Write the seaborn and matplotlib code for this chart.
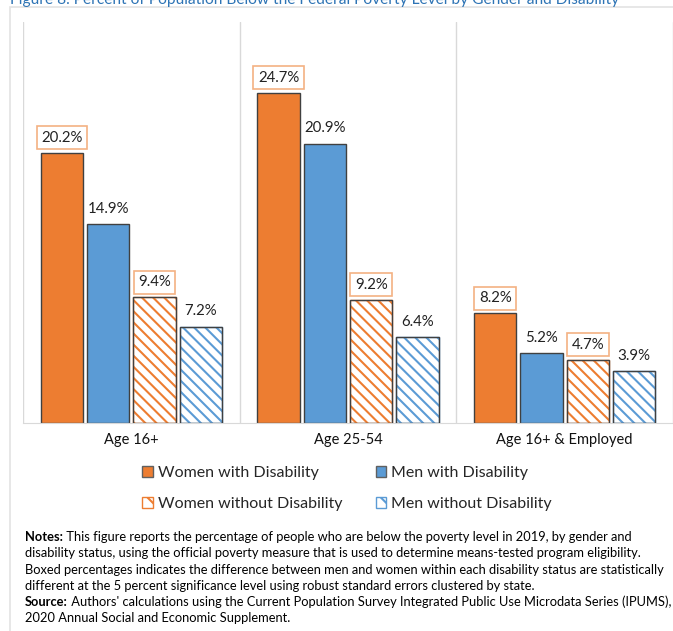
import pandas as pd
import seaborn as sns
import matplotlib.pyplot as plt
from matplotlib.patches import Patch, Rectangle

groups = ['Age 16+', 'Age 25-54', 'Age 16+ & Employed']
series = ['Women with Disability', 'Men with Disability',
          'Women without Disability', 'Men without Disability']
women_dis = [20.2, 24.7, 8.2]
men_dis = [14.9, 20.9, 5.2]
women_nodis = [9.4, 9.2, 4.7]
men_nodis = [7.2, 6.4, 3.9]
hatched = ['Women without Disability', 'Men without Disability']
boxed = ['Women with Disability', 'Women without Disability']

title = 'Figure 8. Percent of Population Below the Federal Poverty Level by Gender and Disability'
notes = [
    ('Notes:', ' This figure reports the percentage of people who are below the poverty level in 2019, by gender and'),
    ('', 'disability status, using the official poverty measure that is used to determine means-tested program eligibility.'),
    ('', 'Boxed percentages indicates the difference between men and women within each disability status are statistically'),
    ('', 'different at the 5 percent significance level using robust standard errors clustered by state.'),
    ('Source:', " Authors' calculations using the Current Population Survey Integrated Public Use Microdata Series (IPUMS),"),
    ('', '2020 Annual Social and Economic Supplement.'),
]

orange = '#ED7D31'
blue = '#5B9BD5'
edge = '#404040'
grid = '#D9D9D9'

df = pd.DataFrame({
    'group': groups * 4,
    'series': sum([[s] * 3 for s in series], []),
    'value': women_dis + men_dis + women_nodis + men_nodis,
})

sns.set_style('white')
plt.rcParams['font.family'] = ['Lato', 'DejaVu Sans']
plt.rcParams['hatch.linewidth'] = 1.5

W, H = 673, 631
fig = plt.figure(figsize=(W / 100, H / 100), dpi=100)
ax = fig.add_axes([23 / W, 1 - 423 / H, 650 / W, 401 / H])

sns.barplot(data=df, x='group', y='value', hue='series', order=groups,
            hue_order=series, palette=[orange, blue, orange, blue],
            width=0.855, gap=0.09, edgecolor=edge, linewidth=1,
            saturation=1, legend=False, ax=ax)

for cont, name in zip(ax.containers, series):
    for bar in cont:
        if name in hatched:
            col = bar.get_facecolor()
            bar.set_facecolor('white')
            bar.set_edgecolor(col)
            bar.set_hatch('\\\\\\')
            ax.add_patch(Rectangle(bar.get_xy(), bar.get_width(), bar.get_height(),
                                   fill=False, edgecolor=edge, lw=1, zorder=3))
        val = bar.get_height()
        box = None
        if name in boxed:
            box = dict(boxstyle='square,pad=0.3', fc='white', ec='#F4B183', lw=1.2)
        ax.annotate(f'{val:.1f}%', (bar.get_x() + bar.get_width() / 2, val),
                    xytext=(0, 11), textcoords='offset points', ha='center',
                    va='center', fontsize=10.8, color='#222222', bbox=box)

ax.set_xlim(-0.5, 2.5)
ax.set_ylim(0, 30)
for x in [-0.5, 0.5, 1.5, 2.5]:
    ax.axvline(x, color=grid, lw=1, zorder=0)
sns.despine(ax=ax, left=True, right=True, top=True)
ax.spines['bottom'].set_color(grid)
ax.set_yticks([])
ax.set_xlabel('')
ax.set_ylabel('')
ax.tick_params(axis='x', length=0, pad=7, labelsize=10.5, labelcolor='#111111')

# legend
handles = [
    Patch(facecolor=orange, edgecolor='#606060', label=series[0]),
    Patch(facecolor='white', edgecolor=orange, hatch='\\\\', label=series[2]),
    Patch(facecolor=blue, edgecolor='#606060', label=series[1]),
    Patch(facecolor='white', edgecolor=blue, hatch='\\\\', label=series[3]),
]
fig.legend(handles=handles, ncol=2, loc='upper left',
           bbox_to_anchor=(128 / W, 1 - 452 / H), frameon=False,
           fontsize=11.5, handlelength=0.65, handleheight=0.65,
           handletextpad=0.3, labelspacing=1.06, columnspacing=2.1)

# outer frame and clipped title
fig.add_artist(Rectangle((10 / W, -0.1), 1.2, 1 - 7 / H + 0.1, transform=fig.transFigure,
                         fill=False, edgecolor='#E3E3E3', lw=1.2))
fig.text(10 / W, 1.0, title, color='#2E74B5', fontsize=11.2, va='center', ha='left')

# notes
for (bold, rest), yy in zip(notes, [537, 553, 569.5, 586, 602, 618]):
    y = 1 - (yy + 6) / H
    if bold:
        t = fig.text(25 / W, y, bold, fontsize=9.25, fontweight='bold', va='bottom', color='black')
        ax.annotate(rest, xy=(1, 0), xycoords=t, va='bottom', ha='left',
                    fontsize=9.25, color='black', annotation_clip=False)
    else:
        fig.text(25 / W, y, rest, fontsize=9.25, va='bottom', color='black')

fig.savefig('out.png', dpi=100)
